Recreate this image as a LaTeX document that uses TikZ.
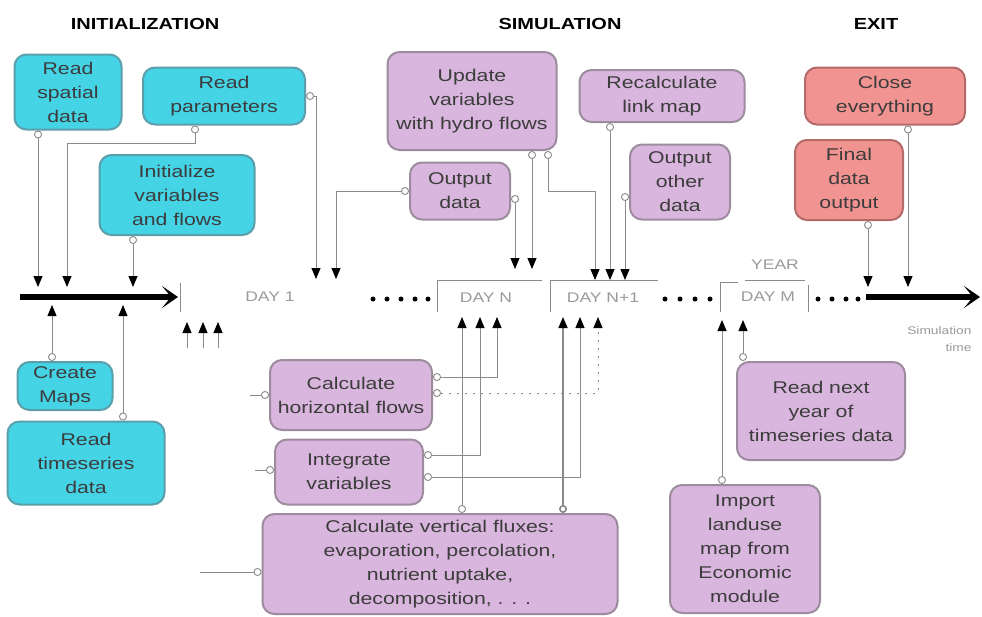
\documentclass[tikz,border=0pt]{standalone}
\usepackage{fontspec}
\setmainfont{Liberation Sans}
\newfontfamily\boxfont[FakeStretch=1.25]{Liberation Sans}
\usetikzlibrary{arrows.meta}
\definecolor{cyanfill}{HTML}{45D3E6}
\definecolor{cyanline}{HTML}{5A9FAA}
\definecolor{purfill}{HTML}{D9B6DD}
\definecolor{purline}{HTML}{9C8C9E}
\definecolor{salfill}{HTML}{F19390}
\definecolor{salline}{HTML}{B46A68}
\definecolor{txt}{HTML}{3C3C3C}
\definecolor{wirec}{HTML}{8A8A8A}
\definecolor{daytxt}{HTML}{9A9A9A}
\begin{document}
\begin{tikzpicture}[x=1pt,y=-1pt,
  box/.style={draw, line width=2pt, rounded corners=12pt, align=center, inner sep=1pt,
    font=\boxfont\fontsize{17}{24}\selectfont, text=txt},
  cbox/.style={box, fill=cyanfill, draw=cyanline},
  pbox/.style={box, fill=purfill, draw=purline},
  sbox/.style={box, fill=salfill, draw=salline},
  wire/.style={draw=wirec, line width=0.9pt},
  feed/.style={wire, {Circle[open,fill=white,length=8pt,width=8pt,color=wirec]}-{Triangle[length=11pt,width=9pt,color=black]}},
  stub/.style={wire, -{Triangle[length=11pt,width=9pt,color=black]}},
  inport/.style={wire, -{Circle[open,fill=white,length=8pt,width=8pt,color=wirec]}},
  title/.style={font=\boxfont\bfseries\fontsize{16}{18}\selectfont, text=black},
  daylbl/.style={font=\boxfont\fontsize{14}{16}\selectfont, text=daytxt},
  bar/.style={line width=6pt, -{Stealth[length=16pt,width=22pt,inset=9pt]}},
  dotc/.style={fill=black}
]
\useasboundingbox[fill=white] (0,0) rectangle (982,616);

% titles
\node[title] (tinit) at (145,24) {INITIALIZATION};
\node[title] (tsim) at (560,24) {SIMULATION};
\node[title] (texit) at (876,24) {EXIT};

% initialization boxes
\node[cbox, minimum width=107pt, minimum height=75pt] (spatial) at (68,92) {Read\\spatial\\data};
\node[cbox, minimum width=162pt, minimum height=57pt] (params) at (224,96) {Read\\parameters};
\node[cbox, minimum width=155pt, minimum height=80pt] (init) at (177,195) {Initialize\\variables\\and flows};
\node[cbox, minimum width=95pt, minimum height=48pt] (maps) at (65,386) {Create\\Maps};
\node[cbox, minimum width=157pt, minimum height=83pt] (series) at (86,463) {Read\\timeseries\\data};

% simulation boxes
\node[pbox, minimum width=169pt, minimum height=98pt] (update) at (472,101) {Update\\variables\\with hydro flows};
\node[pbox, minimum width=100pt, minimum height=57pt] (outdata) at (460,191) {Output\\data};
\node[pbox, minimum width=165pt, minimum height=52pt] (recalc) at (662,96) {Recalculate\\link map};
\node[pbox, minimum width=100pt, minimum height=75pt] (other) at (680,182) {Output\\other\\data};
\node[pbox, minimum width=162pt, minimum height=70pt] (calc) at (351,395) {Calculate\\horizontal flows};
\node[pbox, minimum width=148pt, minimum height=65pt] (integ) at (349,472) {Integrate\\variables};
\node[pbox, minimum width=355pt, minimum height=100pt] (vflux) at (440,564) {Calculate vertical fluxes:\\evaporation, percolation,\\nutrient uptake,\\decomposition, . . .};
\node[pbox, minimum width=168pt, minimum height=98pt] (next) at (821,411) {Read next\\year of\\timeseries data};
\node[pbox, minimum width=150pt, minimum height=128pt] (import) at (745,549) {Import\\landuse\\map from\\Economic\\module};

% exit boxes
\node[sbox, minimum width=160pt, minimum height=57pt] (close) at (885,96) {Close\\everything};
\node[sbox, minimum width=108pt, minimum height=80pt] (final) at (849,180) {Final\\data\\output};

% timeline
\coordinate (a0) at (20,297);
\coordinate (a1) at (178,297);
\coordinate (b0) at (866,297);
\coordinate (b1) at (980,297);
\draw[bar] (a0) -- (a1);
\draw[bar] (b0) -- (b1);
\draw[wire] (180,283) -- (180,312);
\node[daylbl] (d1) at (270,297) {DAY 1};
\foreach \x in {373,387,401,415,428} \fill[dotc] (\x,299) circle (2.5pt);
\draw[wire] (437,312) |- (542,280);
\node[daylbl] (dn) at (486,298) {DAY N};
\draw[wire] (550,312) |- (658,280);
\node[daylbl] (dn1) at (603,298) {DAY N+1};
\foreach \x in {665,680,695,710} \fill[dotc] (\x,299) circle (2.5pt);
\draw[wire] (720,312) -- (720,282) -- (738,282);
\node[daylbl] (year) at (775,265) {YEAR};
\draw[wire] (745,280) -- (805,280);
\node[daylbl] (dm) at (768,297) {DAY M};
\draw[wire] (808,285) -- (808,312);
\foreach \x in {818,832,846,858} \fill[dotc] (\x,299) circle (2.5pt);
\node[font=\boxfont\fontsize{11}{17}\selectfont, text=daytxt, align=right, anchor=east] (simtime) at (975,339) {Simulation\\time};

% arrow tip coordinates
\coordinate (t38) at (38,287);
\coordinate (t67) at (67,287);
\coordinate (t133) at (133,287);
\coordinate (t315) at (316,279);
\coordinate (t335) at (336,279);
\coordinate (t515) at (515,269);
\coordinate (t532) at (532,269);
\coordinate (t595) at (595,280);
\coordinate (t610) at (610,280);
\coordinate (t625) at (625,280);
\coordinate (t868) at (868,287);
\coordinate (t908) at (908,287);
\coordinate (u52) at (52,305);
\coordinate (u123) at (123,305);
\coordinate (u187) at (187,322);
\coordinate (u203) at (203,322);
\coordinate (u218) at (218,322);
\coordinate (u462) at (462,317);
\coordinate (u480) at (480,317);
\coordinate (u497) at (497,317);
\coordinate (u563) at (563,317);
\coordinate (u580) at (580,317);
\coordinate (u598) at (598,317);
\coordinate (u722) at (722,320);
\coordinate (u743) at (743,320);
\coordinate (s187) at (187,348);
\coordinate (s203) at (203,348);
\coordinate (s218) at (218,348);
\coordinate (lc) at (250,395);
\coordinate (li) at (255,470);
\coordinate (lv) at (200,572);

% initialization connectors
\draw[feed] (spatial.south -| t38) -- (t38);
\draw[feed] ([xshift=-29pt]params.south) -- ++(0,18) -| (t67);
\draw[feed] (init.south -| t133) -- (t133);
\draw[feed] (params.east) -| (t315);
\draw[feed] (maps.north -| u52) -- (u52);
\draw[feed] (series.north -| u123) -- (u123);
\draw[stub] (s187) -- (u187);
\draw[stub] (s203) -- (u203);
\draw[stub] (s218) -- (u218);

% simulation connectors, above the timeline
\draw[feed] (outdata.west) -| (t335);
\draw[feed] ([yshift=-8pt]outdata.east) -| (t515);
\draw[feed] (update.south -| t532) -- (t532);
\draw[feed] ([xshift=76pt]update.south) -- ++(0,40) -| (t595);
\draw[feed] (recalc.south -| t610) -- (t610);
\draw[feed] ([yshift=-15pt]other.west) -| (t625);

% simulation connectors, below the timeline
\draw[feed] (vflux.north -| u462) -- (u462);
\draw[feed] ([yshift=18pt]calc.east) -| (u497);
\draw[feed] ([yshift=17pt]integ.east) -| (u480);
\draw[feed, dash pattern=on 2pt off 6pt] ([yshift=2pt]calc.east) -| (u598);
\draw[feed] ([yshift=-5pt]integ.east) -| (u580);
\draw[feed, line width=1.6pt] (vflux.north -| u563) -- (u563);
\draw[feed] (next.north -| u743) -- (u743);
\draw[feed] (import.north -| u722) -- (u722);
\draw[inport] (lc) -- (calc.west);
\draw[inport] (li) -- ([yshift=2pt]integ.west);
\draw[inport] (lv) -- ([yshift=-8pt]vflux.west);

% exit connectors
\draw[feed] (close.south -| t908) -- (t908);
\draw[feed] (final.south -| t868) -- (t868);
\end{tikzpicture}
\end{document}
